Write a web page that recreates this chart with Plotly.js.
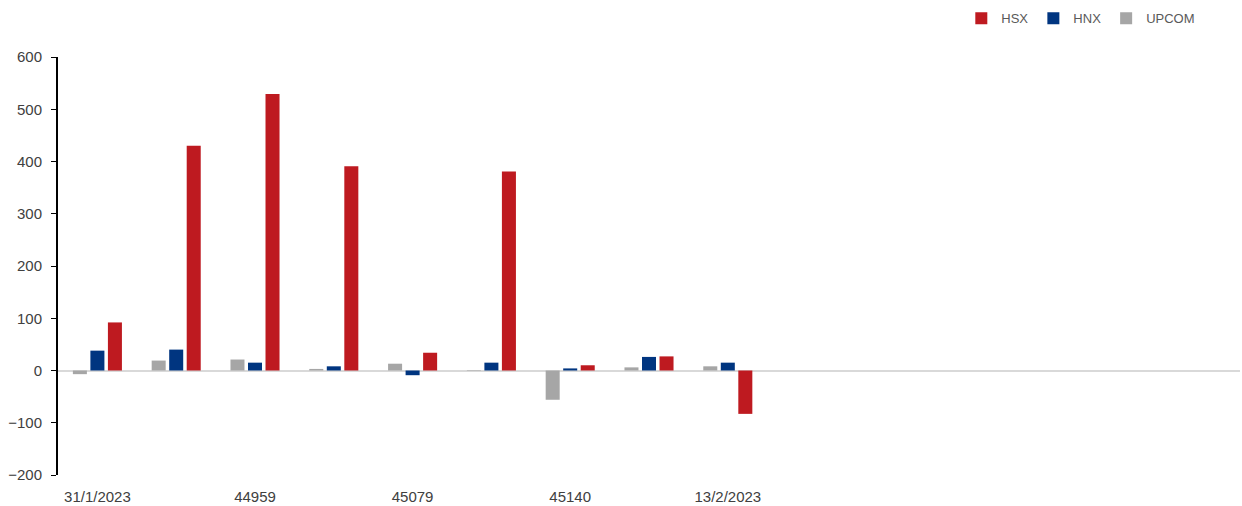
<!DOCTYPE html>
<html>
<head>
<meta charset="utf-8">
<script src="https://cdn.plot.ly/plotly-3.0.1.min.js"></script>
<style>
html,body{margin:0;padding:0;background:#fff;}
#chart{width:1242px;height:506px;}
</style>
</head>
<body>
<div id="chart"></div>
<script>
// Categories (15 slots; last six are empty)
var categories = ["31/1/2023","1/2/2023","44959","3/2/2023","45079","7/2/2023","45140","9/2/2023","13/2/2023","s10","s11","s12","s13","s14","s15"];
var tickLabels = ["31/1/2023","44959","45079","45140","13/2/2023"];
var dataCats = categories.slice(0, 9);

var upcom = [-7, 19, 21, 3, 13, 1, -56, 6, 8];
var hnx   = [38, 40, 15, 8, -9, 15, 4, 26, 15];
var hsx   = [92, 430, 529, 391, 34, 381, 10, 27, -83];

var FONT = '"Liberation Sans Narrow", "Liberation Sans", Arial, sans-serif';

var traces = [
  {type:'bar', name:'UPCOM', x:dataCats, y:upcom, marker:{color:'#a6a6a6'}},
  {type:'bar', name:'HNX',   x:dataCats, y:hnx,   marker:{color:'#003580'}},
  {type:'bar', name:'HSX',   x:dataCats, y:hsx,   marker:{color:'#be1a20'}}
];

var layout = {
  width:1242, height:506,
  margin:{l:58, r:2, t:57, b:31, autoexpand:false},
  paper_bgcolor:'#fff', plot_bgcolor:'#fff',
  font:{family:FONT, color:'#404040', size:15},
  barmode:'group',
  bargap:0.333,
  bargroupgap:0.2,
  showlegend:true,
  legend:{orientation:'h', xref:'container', yref:'container',
          x:0.774, xanchor:'left', y:0.964, yanchor:'middle',
          traceorder:'reversed', font:{size:13, color:'#595959'},
          bgcolor:'rgba(0,0,0,0)'},
  xaxis:{type:'category', categoryorder:'array', categoryarray:categories,
         range:[-0.5, 14.5], tickmode:'array', tickvals:tickLabels, ticktext:tickLabels,
         showline:false, showgrid:false, zeroline:false, ticks:'',
         ticklabelstandoff:11,
         tickfont:{size:15, color:'#404040'}, fixedrange:true},
  yaxis:{range:[-200, 600], dtick:100, tick0:0, showgrid:false,
         showline:true, linecolor:'#000', linewidth:2,
         ticks:'outside', ticklen:5, tickcolor:'#000', tickwidth:1,
         ticklabelstandoff:6,
         zeroline:true, zerolinecolor:'#d9d9d9', zerolinewidth:2,
         tickfont:{size:15, color:'#404040'}, fixedrange:true}
};

Plotly.newPlot('chart', traces, layout, {displayModeBar:false, staticPlot:true});
</script>
</body>
</html>
